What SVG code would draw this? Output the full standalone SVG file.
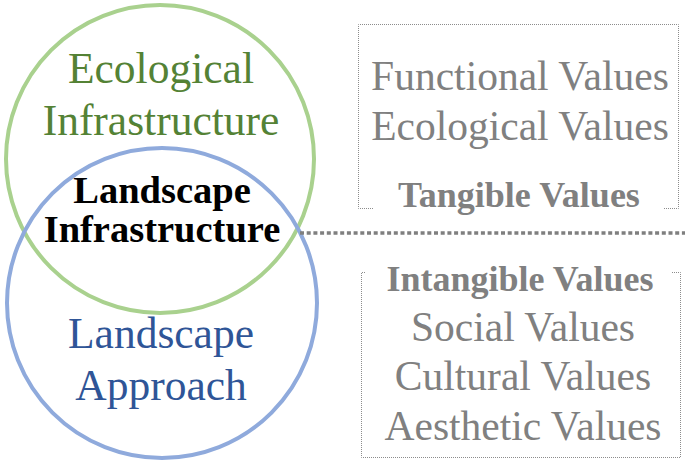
<svg xmlns="http://www.w3.org/2000/svg" width="685" height="464" viewBox="0 0 685 464">
<style>
.ser{font-family:"Liberation Serif","Times New Roman",serif;text-anchor:middle}
.reg{font-size:43.5px}
.bld{font-size:38.5px;font-weight:bold;fill:#000}
.gr{fill:#808080}
.rv{font-size:41.5px}
.rb{font-size:36px;font-weight:bold}
.box{fill:none;stroke:#8c8c8c;stroke-width:1;stroke-dasharray:1 1}
</style>
<rect width="685" height="464" fill="#fff"/>
<g id="eco-circle">
<circle cx="160" cy="159" r="154" fill="none" stroke="#a9d18e" stroke-width="4"/>
</g>
<g id="landscape-circle">
<circle cx="162" cy="303" r="155" fill="none" stroke="#8faadc" stroke-width="4"/>
</g>
<g id="eco-label" class="ser reg" fill="#548235">
<text x="161" y="83">Ecological</text>
<text x="161" y="135">Infrastructure</text>
</g>
<g id="li-label" class="ser bld">
<text x="162" y="203">Landscape</text>
<text x="162" y="242">Infrastructure</text>
</g>
<g id="la-label" class="ser reg" fill="#2f5597">
<text x="161" y="348">Landscape</text>
<text x="161" y="400">Approach</text>
</g>
<g id="connectors">
<line x1="300" y1="233" x2="685" y2="233" stroke="#7f7f7f" stroke-width="3.5" stroke-dasharray="4 2.7"/>
</g>
<g id="tangible-box">
<path class="box" d="M373 208.5H358.5V24.5H678.5V208.5H664"/>
<text class="ser gr rv" x="520" y="90">Functional Values</text>
<text class="ser gr rv" x="520" y="140">Ecological Values</text>
<text class="ser gr rb" x="519" y="207">Tangible Values</text>
</g>
<g id="intangible-box">
<path class="box" d="M365 272.5H361.5V457.5H680.5V272.5H672"/>
<text class="ser gr rb" x="520" y="291">Intangible Values</text>
<text class="ser gr rv" x="523" y="341">Social Values</text>
<text class="ser gr rv" x="523" y="390">Cultural Values</text>
<text class="ser gr rv" x="523" y="440">Aesthetic Values</text>
</g>
</svg>
